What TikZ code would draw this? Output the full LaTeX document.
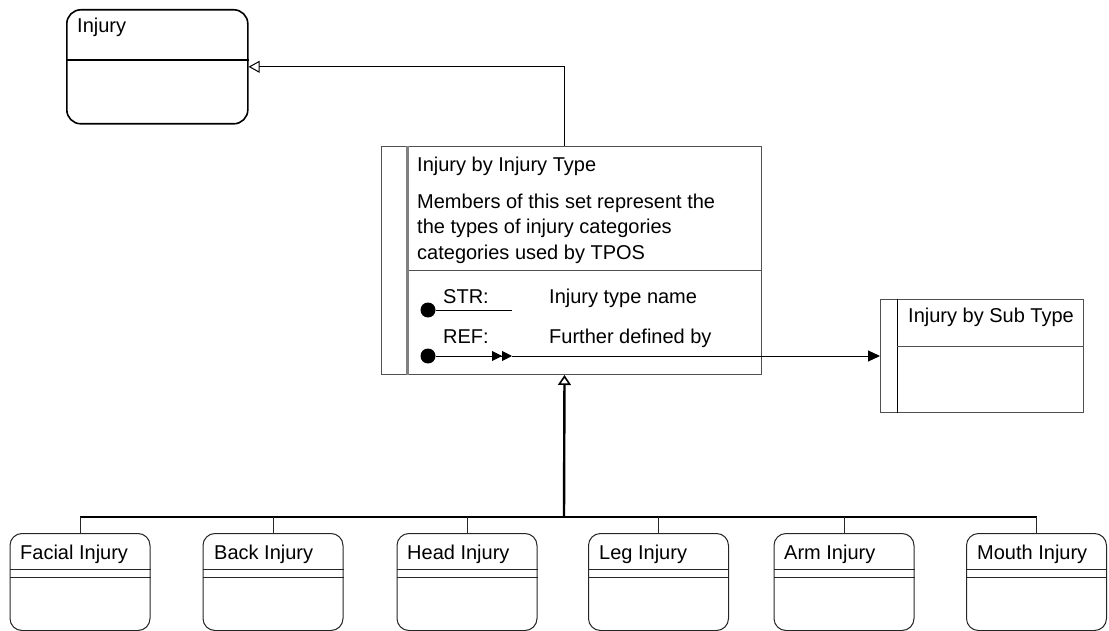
\documentclass[tikz,border=0pt]{standalone}
\usepackage{fontspec}
\setmainfont{Liberation Sans}
\usetikzlibrary{arrows.meta}
\definecolor{edgegray}{HTML}{505050}
\definecolor{bargray}{HTML}{808080}
\begin{document}
\begin{tikzpicture}[x=1pt,y=-1pt,
  every node/.style={font=\fontsize{20}{25}\selectfont},
  entity/.style={draw=black,rounded corners=14pt,line width=1.6pt,anchor=north west,inner sep=0pt},
  subentity/.style={draw=black!85,rounded corners=12pt,line width=1pt,anchor=north west,inner sep=0pt,
    minimum width=140pt,minimum height=97pt},
  setbox/.style={draw=edgegray,line width=1pt,anchor=north west,inner sep=0pt},
  label/.style={anchor=base west,inner sep=0pt},
  dot/.style={circle,fill=black,inner sep=0pt,minimum size=15pt},
  gen/.style={-{Triangle[open,length=11pt,width=12pt,line width=1pt]}},
  ref/.style={line width=1pt},
  stub/.style={line width=1pt,draw=black!85},
]
\useasboundingbox (0,0) rectangle (1109,631);

% supertype
\node[entity,minimum width=181pt,minimum height=114pt] (injury) at (66,9) {};
\draw[line width=1.6pt] ([yshift=-51pt]injury.north west) -- ([yshift=-51pt]injury.north east);
\node[label] (injuryt) at (77,32.5) {Injury};

% set: Injury by Injury Type
\node[setbox,minimum width=380pt,minimum height=228pt] (iit) at (381,146) {};
\draw[edgegray,line width=1pt] ([xshift=26pt,yshift=-125pt]iit.north west) -- ([yshift=-125pt]iit.north east);
\draw[bargray,line width=3pt] ([xshift=26pt]iit.north west) -- ([xshift=26pt]iit.south west);
\node[label] (iitt) at (417,172) {Injury by Injury Type};
\node[label] (desc1) at (417,208.5) {Members of this set represent the};
\node[label] (desc2) at (417,234) {the types of injury categories};
\node[label] (desc3) at (417,259.5) {categories used by TPOS};
\node[label] (strl) at (443,303) {STR:};
\node[label] (strv) at (549,303) {Injury type name};
\node[label] (refl) at (443,343) {REF:};
\node[label] (refv) at (549,343) {Further defined by};
\node[dot] (strdot) at (428,310) {};
\node[dot] (refdot) at (428,356) {};
\coordinate (strend) at (512,310);
\coordinate (refmid) at (512,356);

% set: Injury by Sub Type
\node[setbox,minimum width=203pt,minimum height=113pt] (ist) at (880,299) {};
\draw[black,line width=1pt] ([xshift=17pt]ist.north west) -- ([xshift=17pt]ist.south west);
\draw[edgegray,line width=1pt] ([xshift=17pt,yshift=-47pt]ist.north west) -- ([yshift=-47pt]ist.north east);
\node[label] (istt) at (908,322) {Injury by Sub Type};

% attribute and reference lines
\draw[ref] (strdot) -- (strend);
\draw[ref,-{Triangle[length=10pt,width=10pt]Triangle[length=10pt,width=10pt]}] (refdot) -- (refmid);
\draw[ref,-{Triangle[length=12pt,width=11pt]}] (refmid) -- (ist.west |- refmid);

% generalisation up to Injury
\draw[ref,gen] ([xshift=-7pt]iit.north) |- (injury.east);

% subtypes
\node[subentity] (facial) at (9.5,533) {};
\node[subentity] (back) at (202.5,533) {};
\node[subentity] (head) at (396.5,533) {};
\node[subentity] (leg) at (588,533) {};
\node[subentity] (arm) at (773.5,533) {};
\node[subentity] (mouth) at (966,533) {};
\foreach \n in {facial,back,head,leg,arm,mouth}{
  \draw[stub] ([yshift=-36pt]\n.north west) -- ([yshift=-36pt]\n.north east);
  \draw[stub] ([yshift=-44pt]\n.north west) -- ([yshift=-44pt]\n.north east);
}
\node[label] (facialt) at (20,559) {Facial Injury};
\node[label] (backt) at (214,559) {Back Injury};
\node[label] (headt) at (407,559) {Head Injury};
\node[label] (legt) at (599,559) {Leg Injury};
\node[label] (armt) at (784,559) {Arm Injury};
\node[label] (moutht) at (977,559) {Mouth Injury};

% generalisation bus
\coordinate (hub) at (564,517);
\draw[line width=1.3pt] (facial.north |- hub) -- (mouth.north |- hub);
\foreach \n in {facial,back,head,leg,arm,mouth}{
  \draw[stub] (\n.north) -- (\n.north |- hub);
}
\draw[line width=2.4pt,-{Triangle[open,length=10pt,width=13pt,line width=1.6pt]}] (hub) -- ([xshift=-7pt]iit.south);
\end{tikzpicture}
\end{document}
